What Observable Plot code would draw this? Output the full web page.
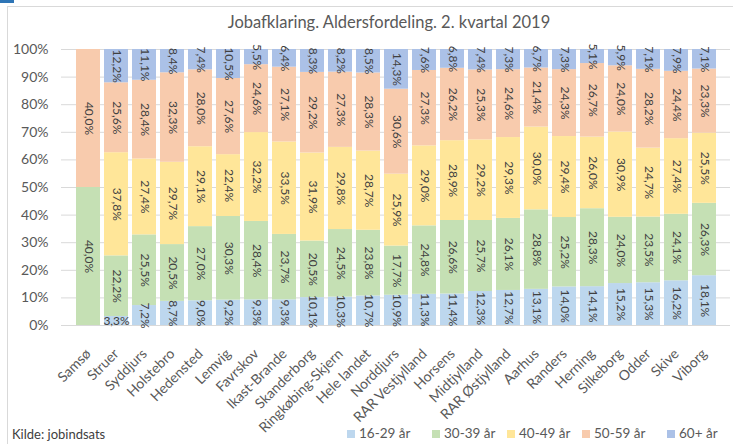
<!DOCTYPE html>
<html>
<head>
<meta charset="utf-8">
<script src="https://cdn.jsdelivr.net/npm/d3@7"></script>
<script src="https://cdn.jsdelivr.net/npm/@observablehq/plot@0.6"></script>
<style>
  body { margin: 0; background: #fff; }
  #wrap { position: relative; width: 733px; height: 444px; overflow: hidden; font-family: Lato, "Open Sans", sans-serif; color: #595959; }
  #frame { position: absolute; left: 7px; top: 6px; width: 740px; height: 460px; border: 1px solid #d9d9d9; box-sizing: border-box; }
  #corner { position: absolute; left: 0; top: 0; width: 14px; height: 3px; background: #2e75b6; }
  #title { position: absolute; top: 12px; left: 389px; transform: translateX(-50%); font-size: 16.5px; white-space: nowrap; color: #595959; }
  #chart { position: absolute; left: 0; top: 0; }
  #caption { position: absolute; left: 12px; top: 426px; font-size: 13px; color: #404040; }
  .leg { position: absolute; top: 425px; font-size: 13.5px; white-space: nowrap; color: #595959; }
  .leg span.sw { display: inline-block; width: 8px; height: 8px; margin-right: 4px; vertical-align: 0px; }
</style>
</head>
<body>
<div id="wrap">
  <div id="frame"></div>
  <div id="corner"></div>
  <div id="chart"></div>
  <div id="title">Jobafklaring. Aldersfordeling. 2. kvartal 2019</div>
  <div id="caption">Kilde: jobindsats</div>
  <div id="legend"></div>
</div>
<script>
const categories = ["Samsø","Struer","Syddjurs","Holstebro","Hedensted","Lemvig","Favrskov","Ikast-Brande","Skanderborg","Ringkøbing-Skjern","Hele landet","Norddjurs","RAR Vestjylland","Horsens","Midtjylland","RAR Østjylland","Aarhus","Randers","Herning","Silkeborg","Odder","Skive","Viborg"];
const groups = ["16-29 år","30-39 år","40-49 år","50-59 år","60+ år"];
const colors = ["#bdd7ee","#c5e0b4","#ffe699","#f8cbad","#abc1e7"];
const age16_29 = [0,3.3,7.2,8.7,9.0,9.2,9.3,9.3,10.1,10.3,10.7,10.9,11.3,11.4,12.3,12.7,13.1,14.0,14.1,15.2,15.3,16.2,18.1];
const age30_39 = [40.0,22.2,25.5,20.5,27.0,30.3,28.4,23.7,20.5,24.5,23.8,17.7,24.8,26.6,25.7,26.1,28.8,25.2,28.3,24.0,23.5,24.1,26.3];
const age40_49 = [0,37.8,27.4,29.7,29.1,22.4,32.2,33.5,31.9,29.8,28.7,25.9,29.0,28.9,29.2,29.3,30.0,29.4,26.0,30.9,24.7,27.4,25.5];
const age50_59 = [40.0,25.6,28.4,32.3,28.0,27.6,24.6,27.1,29.2,27.3,28.3,30.6,27.3,26.2,25.3,24.6,21.4,24.3,26.7,24.0,28.2,24.4,23.3];
const age60 = [0,12.2,11.1,8.4,7.4,10.5,5.5,6.4,8.3,8.2,8.5,14.3,7.6,6.8,7.4,7.3,6.7,7.3,5.1,5.9,7.1,7.9,7.1];
const yTicks = [0,0.1,0.2,0.3,0.4,0.5,0.6,0.7,0.8,0.9,1];

const series = [age16_29, age30_39, age40_49, age50_59, age60];
const data = categories.flatMap((c, i) => groups.map((g, j) => ({kommune: c, group: g, value: series[j][i]})));
const fmt = v => v.toFixed(1).replace(".", ",") + "%";

const chart = Plot.plot({
  width: 733, height: 444,
  marginTop: 49, marginBottom: 119, marginLeft: 61, marginRight: 3,
  style: {fontFamily: "Lato, 'Open Sans', sans-serif", fontSize: "12px", color: "#595959", background: "transparent", overflow: "visible"},
  x: {domain: categories, padding: 0.15, label: null},
  y: {domain: [0, 1], label: null},
  color: {domain: groups, range: colors},
  marks: [
    Plot.gridY(yTicks, {stroke: "#d9d9d9", strokeOpacity: 1}),
    Plot.barY(data, Plot.stackY({x: "kommune", y: "value", fill: "group", order: groups, offset: "normalize"})),
    Plot.text(data, Plot.stackY({
      x: "kommune", y: "value", z: "group", order: groups, offset: "normalize",
      text: d => d.value > 0 ? fmt(d.value) : "",
      rotate: d => d.value < 5 ? 0 : 90,
      fill: "#404040", fontSize: 12
    })),
    Plot.axisY({ticks: yTicks, tickFormat: d => Math.round(d * 100) + "%", tickSize: 0, tickPadding: 13, fontSize: 14, label: null}),
    Plot.axisX({tickRotate: -45, tickSize: 0, tickPadding: 26, dx: 0, fontSize: 14, label: null})
  ]
});
document.getElementById("chart").appendChild(chart);

const legX = [347, 432, 507, 582, 667];
const legend = document.getElementById("legend");
groups.forEach((g, i) => {
  const d = document.createElement("div");
  d.className = "leg";
  d.style.left = legX[i] + "px";
  d.innerHTML = `<span class="sw" style="background:${colors[i]}"></span>${g}`;
  legend.appendChild(d);
});
</script>
</body>
</html>
